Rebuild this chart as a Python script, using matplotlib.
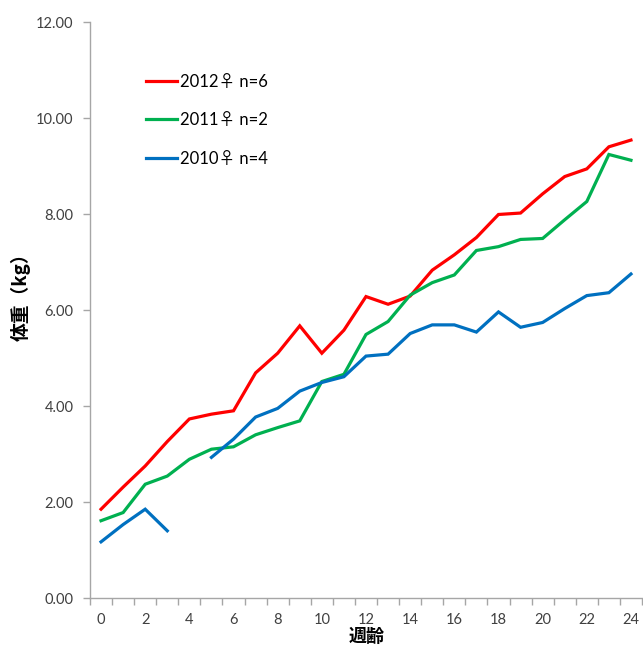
import numpy as np
import matplotlib
matplotlib.use("Agg")
import matplotlib.pyplot as plt
from matplotlib.ticker import FixedLocator, FormatStrFormatter

plt.rcParams['font.family'] = ['Lato', 'Noto Sans CJK JP', 'DejaVu Sans']

weeks = list(range(25))

w2012 = [1.85, 2.31, 2.75, 3.26, 3.73, 3.83, 3.90, 4.69, 5.10, 5.67, 5.10, 5.58, 6.28,
         6.12, 6.29, 6.83, 7.15, 7.51, 7.99, 8.02, 8.42, 8.78, 8.94, 9.40, 9.54]
w2011 = [1.61, 1.78, 2.37, 2.54, 2.89, 3.10, 3.15, 3.40, 3.55, 3.69, 4.51, 4.66, 5.49,
         5.76, 6.31, 6.57, 6.73, 7.24, 7.32, 7.47, 7.49, 7.88, 8.26, 9.24, 9.12]
# week 4 missing for 2010
w2010 = [1.17, 1.53, 1.85, 1.40, np.nan, 2.93, 3.31, 3.77, 3.95, 4.31, 4.49, 4.61, 5.04,
         5.08, 5.51, 5.69, 5.69, 5.54, 5.96, 5.64, 5.74, 6.03, 6.30, 6.36, 6.75]

labels = ['2012♀ n=6', '2011♀ n=2', '2010♀ n=4']
colors = ['#FF0000', '#00B050', '#0070C0']

fig = plt.figure(figsize=(6.43, 6.48), dpi=100)
ax = fig.add_axes([90 / 643, 50 / 648, 552 / 643, 576 / 648])

for ys, lab, c in zip([w2012, w2011, w2010], labels, colors):
    ax.plot(weeks, ys, color=c, lw=2.3, label=lab, solid_joinstyle='miter')

ax.set_xlim(-0.5, 24.5)
ax.set_ylim(0, 12)

grey = '#A6A6A6'
for s in ['top', 'right']:
    ax.spines[s].set_visible(False)
for s in ['left', 'bottom']:
    ax.spines[s].set_color(grey)
    ax.spines[s].set_linewidth(1.0)

ax.set_yticks(np.arange(0, 12.01, 2))
ax.yaxis.set_major_formatter(FormatStrFormatter('%.2f'))
ax.tick_params(axis='y', direction='out', length=5, width=1, color=grey,
               labelsize=10.5, pad=7, labelcolor='#404040')

ax.set_xticks(range(0, 25, 2))
ax.xaxis.set_minor_locator(FixedLocator(np.arange(-0.5, 24.6, 1)))
ax.tick_params(axis='x', which='major', length=0, labelsize=10.5, pad=11,
               labelcolor='#404040')
ax.tick_params(axis='x', which='minor', direction='out', length=5, width=1, color=grey)

cjk = ['Noto Sans CJK JP', 'DejaVu Sans']
ax.set_ylabel('体重（kg）', family=cjk, fontweight='bold', fontsize=13.5)
ax.yaxis.set_label_coords(-0.107, 0.53)
ax.set_xlabel('週齢', family=cjk, fontweight='bold', fontsize=13)
ax.xaxis.set_label_coords(0.502, -0.051)

ax.legend(loc='upper left', bbox_to_anchor=(0.086, 0.925), frameon=False,
          fontsize=12, handlelength=1.9, handletextpad=0.15, labelspacing=1.35,
          borderpad=0)

fig.savefig('out.png', dpi=100)
